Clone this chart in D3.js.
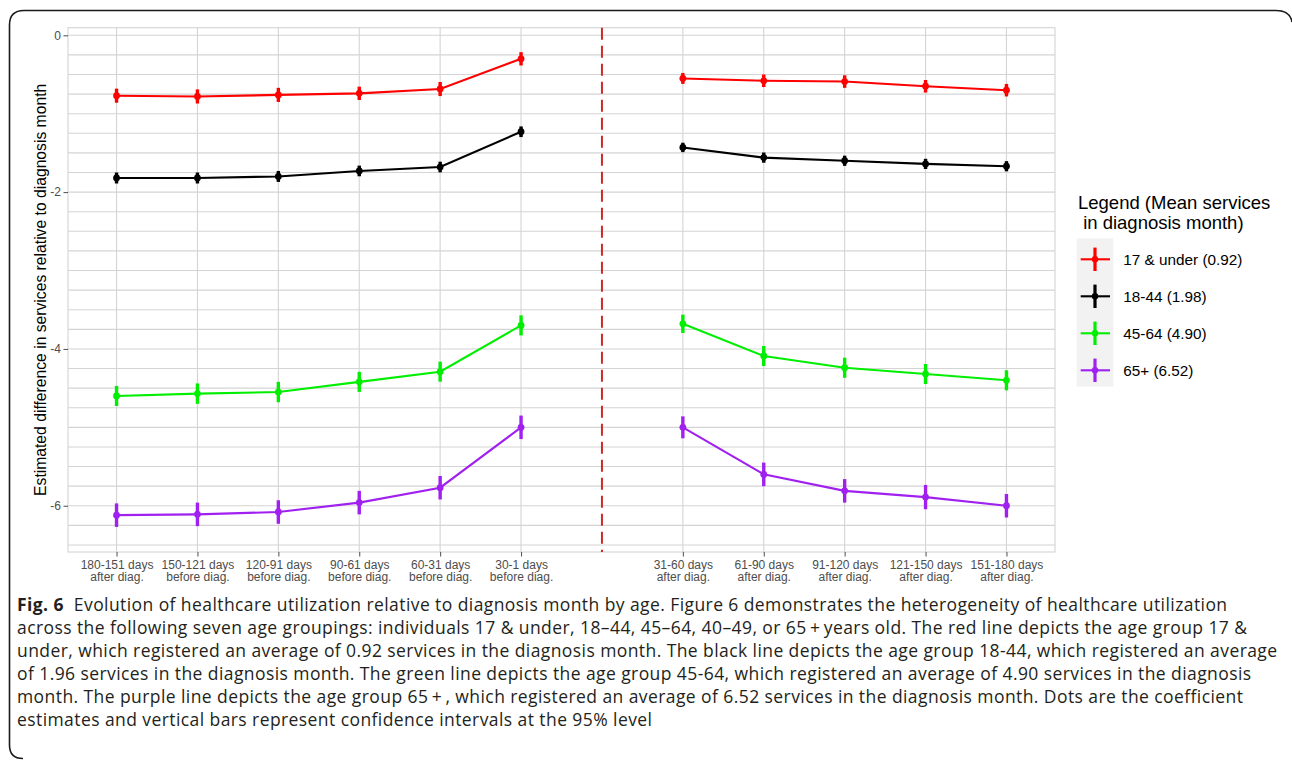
<!DOCTYPE html>
<html>
<head>
<meta charset="utf-8">
<script src="https://cdn.jsdelivr.net/npm/d3@7"></script>
<style>
  html, body { margin: 0; padding: 0; background: #fff; }
  svg { display: block; }
  text { white-space: pre; }
</style>
</head>
<body>
<svg id="fig" width="1292" height="761"></svg>
<script>
// Time buckets relative to the diagnosis month (0 = diagnosis month, not plotted)
const periods = [-6, -5, -4, -3, -2, -1, 1, 2, 3, 4, 5];
const periodLabels = [
  ["180-151 days", "after diag."],
  ["150-121 days", "before diag."],
  ["120-91 days", "before diag."],
  ["90-61 days", "before diag."],
  ["60-31 days", "before diag."],
  ["30-1 days", "before diag."],
  ["31-60 days", "after diag."],
  ["61-90 days", "after diag."],
  ["91-120 days", "after diag."],
  ["121-150 days", "after diag."],
  ["151-180 days", "after diag."]
];

// Coefficient estimates per age group
const under17 = [-0.77, -0.78, -0.76, -0.74, -0.685, -0.30, -0.55, -0.58, -0.59, -0.65, -0.70];
const age18to44 = [-1.82, -1.82, -1.80, -1.73, -1.68, -1.23, -1.43, -1.56, -1.60, -1.64, -1.67];
const age45to64 = [-4.60, -4.57, -4.55, -4.42, -4.29, -3.70, -3.68, -4.09, -4.24, -4.32, -4.40];
const age65plus = [-6.12, -6.11, -6.08, -5.96, -5.77, -5.00, -5.00, -5.60, -5.81, -5.89, -6.00];

// Half-width of the 95% confidence interval per estimate
const under17CI = [0.09, 0.09, 0.09, 0.085, 0.09, 0.085, 0.07, 0.08, 0.08, 0.08, 0.08];
const age18to44CI = [0.07, 0.07, 0.07, 0.068, 0.068, 0.068, 0.06, 0.065, 0.065, 0.065, 0.065];
const age45to64CI = [0.128, 0.13, 0.13, 0.128, 0.128, 0.128, 0.117, 0.128, 0.128, 0.128, 0.128];
const age65plusCI = [0.15, 0.15, 0.15, 0.15, 0.15, 0.15, 0.14, 0.15, 0.15, 0.155, 0.15];

const groupNames = ["17 & under (0.92)", "18-44 (1.98)", "45-64 (4.90)", "65+ (6.52)"];
const groupColors = ["#ff0000", "#000000", "#00ee00", "#a020f0"];
const yTicks = [0, -2, -4, -6];

const legendTitle = ["Legend (Mean services", " in diagnosis month)"];
const captionLines = [
  [["Fig. 6", "bold"], ["  Evolution of healthcare utilization relative to diagnosis month by age. Figure 6 demonstrates the heterogeneity of healthcare utilization", "normal"]],
  [["across the following seven age groupings: individuals 17 & under, 18\u201344, 45\u201364, 40\u201349, or 65\u2009+\u2009years old. The red line depicts the age group 17 &", "normal"]],
  [["under, which registered an average of 0.92 services in the diagnosis month. The black line depicts the age group 18-44, which registered an average", "normal"]],
  [["of 1.96 services in the diagnosis month. The green line depicts the age group 45-64, which registered an average of 4.90 services in the diagnosis", "normal"]],
  [["month. The purple line depicts the age group 65\u2009+\u2009, which registered an average of 6.52 services in the diagnosis month. Dots are the coefficient", "normal"]],
  [["estimates and vertical bars represent confidence intervals at the 95% level", "normal"]]
];

const series = [
  { est: under17, ci: under17CI },
  { est: age18to44, ci: age18to44CI },
  { est: age45to64, ci: age45to64CI },
  { est: age65plus, ci: age65plusCI }
];

const svg = d3.select("#fig");
const axisFont = "'Liberation Sans', Arial, sans-serif";

// Figure frame with rounded corners
svg.append("path")
  .attr("d", "M 23,758.5 Q 9.5,758.5 9.5,745 L 9.5,25 Q 9.5,10.5 24,10.5 L 1276,10.5 Q 1290,10.5 1292,22")
  .attr("fill", "none").attr("stroke", "#1a1a1a").attr("stroke-width", 1.6);

// Panel geometry
const panel = { left: 68, right: 1055, top: 27.7, bottom: 552 };
const x = d3.scaleLinear().domain([-6.6, 5.6]).range([panel.left, panel.right]);
const y = d3.scaleLinear().domain([-6.59, 0.097]).range([panel.bottom, panel.top]);

const g = svg.append("g");

// Horizontal grid every 0.25
const hGrid = d3.range(0, -6.51, -0.25);
g.append("g").selectAll("line").data(hGrid).join("line")
  .attr("x1", panel.left).attr("x2", panel.right)
  .attr("y1", d => y(d)).attr("y2", d => y(d))
  .attr("stroke", "#d4d4d4").attr("stroke-width", 1.1);

// Vertical grid at each period
g.append("g").selectAll("line").data(periods).join("line")
  .attr("x1", d => x(d)).attr("x2", d => x(d))
  .attr("y1", panel.top).attr("y2", panel.bottom)
  .attr("stroke", "#d4d4d4").attr("stroke-width", 1.1);

// Panel border
g.append("rect")
  .attr("x", panel.left).attr("y", panel.top)
  .attr("width", panel.right - panel.left).attr("height", panel.bottom - panel.top)
  .attr("fill", "none").attr("stroke", "#d4d4d4").attr("stroke-width", 1.1);

// Diagnosis-month reference line
g.append("line")
  .attr("x1", x(0)).attr("x2", x(0))
  .attr("y1", panel.top).attr("y2", panel.bottom)
  .attr("stroke", "#cc2a2a").attr("stroke-width", 2)
  .attr("stroke-dasharray", "12,6");

// Y axis
const yAxis = g.append("g")
  .attr("transform", `translate(${panel.left},0)`)
  .call(d3.axisLeft(y).tickValues(yTicks).tickSize(4.5).tickPadding(2.5).tickFormat(d => String(d)));
yAxis.select(".domain").remove();
yAxis.selectAll(".tick line").attr("stroke", "#4d4d4d").attr("stroke-width", 1);
yAxis.selectAll(".tick text")
  .attr("fill", "#4d4d4d").style("font-family", axisFont).style("font-size", "12px");

// X axis with two-line labels
const xAxis = g.append("g")
  .attr("transform", `translate(0,${panel.bottom})`)
  .call(d3.axisBottom(x).tickValues(periods).tickSize(4.5).tickFormat(""));
xAxis.select(".domain").remove();
xAxis.selectAll(".tick line").attr("stroke", "#4d4d4d").attr("stroke-width", 1);
xAxis.selectAll(".tick").each(function (d, i) {
  const t = d3.select(this).append("text")
    .attr("fill", "#4d4d4d").attr("text-anchor", "middle")
    .style("font-family", axisFont).style("font-size", "12px");
  periodLabels[i].forEach((line, k) => {
    t.append("tspan").attr("x", 0).attr("y", 16.5 + k * 12.5).text(line);
  });
});

// Y axis title
svg.append("text")
  .attr("transform", `translate(45.7,${(panel.top + panel.bottom) / 2}) rotate(-90)`)
  .attr("text-anchor", "middle")
  .style("font-family", axisFont).style("font-size", "15.7px").attr("fill", "#000")
  .text("Estimated difference in services relative to diagnosis month");

// Lines (broken at the diagnosis month) and point ranges
const line = d3.line().x(d => x(d.p)).y(d => y(d.v));
series.forEach((s, si) => {
  const col = groupColors[si];
  const sg = g.append("g");
  const pts = s.est.map((v, i) => ({ p: periods[i], v }));
  [pts.filter(d => d.p < 0), pts.filter(d => d.p > 0)].forEach(seg => {
    sg.append("path").datum(seg).attr("d", line)
      .attr("fill", "none").attr("stroke", col).attr("stroke-width", 2.1);
  });
  sg.selectAll("line.ci").data(s.est).join("line").attr("class", "ci")
    .attr("x1", (d, i) => x(periods[i])).attr("x2", (d, i) => x(periods[i]))
    .attr("y1", (d, i) => y(d + s.ci[i])).attr("y2", (d, i) => y(d - s.ci[i]))
    .attr("stroke", col).attr("stroke-width", 3.4);
  sg.selectAll("circle").data(s.est).join("circle")
    .attr("cx", (d, i) => x(periods[i])).attr("cy", d => y(d))
    .attr("r", 3.4).attr("fill", col);
});

// Legend
const legend = svg.append("g");
legend.selectAll("text.title").data(legendTitle).join("text").attr("class", "title")
  .attr("x", 1078).attr("y", (d, i) => 208.5 + i * 20.5)
  .style("font-family", axisFont).style("font-size", "18.5px").attr("fill", "#000")
  .text(d => d);
legend.append("rect")
  .attr("x", 1076.7).attr("y", 238.3).attr("width", 36.6).attr("height", 148.4)
  .attr("fill", "#f2f2f2");
const keyY = i => 259.3 + i * 37;
const keys = legend.selectAll("g.key").data(groupNames).join("g").attr("class", "key")
  .attr("transform", (d, i) => `translate(1095,${keyY(i)})`);
keys.append("line").attr("x1", -14.3).attr("x2", 15).attr("y1", 0).attr("y2", 0)
  .attr("stroke", (d, i) => groupColors[i]).attr("stroke-width", 2.1);
keys.append("line").attr("x1", 0).attr("x2", 0).attr("y1", -11.7).attr("y2", 11.7)
  .attr("stroke", (d, i) => groupColors[i]).attr("stroke-width", 3.2);
keys.append("circle").attr("r", 3.2).attr("fill", (d, i) => groupColors[i]);
keys.append("text").attr("x", 28.3).attr("y", 5.4)
  .style("font-family", axisFont).style("font-size", "15.3px").attr("fill", "#000")
  .text(d => d);

// Caption
const caption = svg.append("g");
captionLines.forEach((parts, li) => {
  const t = caption.append("text")
    .attr("x", 17).attr("y", 611 + li * 23)
    .style("font-family", "'Open Sans', 'Noto Sans', sans-serif")
    .style("font-size", "17.5px").style("letter-spacing", "0.42px")
    .attr("fill", "#231f20");
  parts.forEach(([str, weight]) => {
    t.append("tspan").style("font-weight", weight).text(str);
  });
});
</script>
</body>
</html>
